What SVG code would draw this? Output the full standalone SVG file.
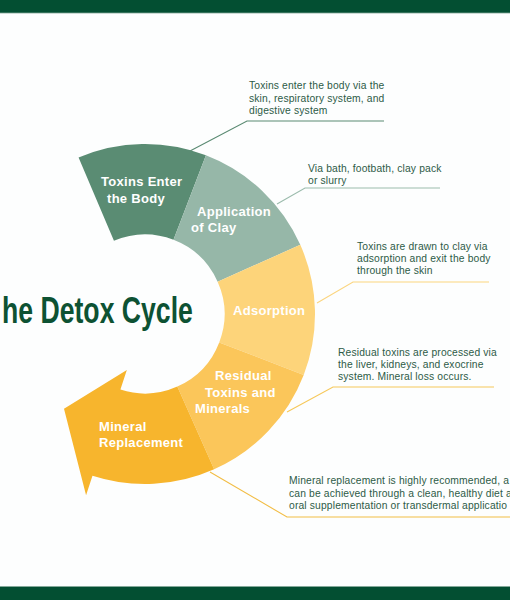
<svg xmlns="http://www.w3.org/2000/svg" width="510" height="600" viewBox="0 0 510 600">
<style>
.lbl{font-family:"Liberation Sans",Arial,sans-serif;font-weight:bold;font-size:13px;fill:#ffffff;letter-spacing:0.3px}
.ann{font-family:"Liberation Sans",Arial,sans-serif;font-size:10.3px;fill:#2d5b47;letter-spacing:0.15px}
.ld{fill:none;stroke-width:1.1}
</style>
<rect x="0" y="0" width="510" height="600" fill="#fdfefe"/>
<rect x="0" y="0" width="510" height="13" fill="#034f32"/>
<rect x="0" y="12.6" width="510" height="0.8" fill="#7fa596"/>
<rect x="0" y="586.6" width="510" height="13.4" fill="#034f32"/>
<rect x="0" y="586.2" width="510" height="0.8" fill="#7fa596"/>

<g id="connectors">
<polyline class="ld" stroke="#5a8a72" points="190,151 247,121 384,121"/>
<polyline class="ld" stroke="#9bbbac" points="277,204 305,188 440,188"/>
<polyline class="ld" stroke="#fbd57f" points="317,303 353,282 489,282"/>
<polyline class="ld" stroke="#f6c85a" points="287,412 333,387 494,387"/>
<polyline class="ld" stroke="#f2bd45" points="210,472 287,517 510,517"/>
</g>

<g id="toxins-enter">
<path fill="#5a8c73" d="M78.58,157.51 A170,170 0 0 1 205.93,155.29 L173.49,239.78 A79.5,79.5 0 0 0 113.94,240.82 Z"/>
<text class="lbl" x="101" y="186">Toxins Enter</text>
<text class="lbl" x="107" y="203">the Body</text>
</g>
<g id="application">
<path fill="#96b7a8" d="M205.93,155.29 A170,170 0 0 1 300.30,244.86 L217.62,281.67 A79.5,79.5 0 0 0 173.49,239.78 Z"/>
<text class="lbl" x="197" y="216">Application</text>
<text class="lbl" x="191" y="232">of Clay</text>
</g>
<g id="adsorption">
<path fill="#fdd47a" d="M300.30,244.86 A170,170 0 0 1 303.71,374.93 L219.22,342.49 A79.5,79.5 0 0 0 217.62,281.67 Z"/>
<text class="lbl" x="233" y="315">Adsorption</text>
</g>
<g id="residual">
<path fill="#fbc65a" d="M303.71,374.93 A170,170 0 0 1 214.14,469.30 L177.33,386.62 A79.5,79.5 0 0 0 219.22,342.49 Z"/>
<text class="lbl" x="215" y="380">Residual</text>
<text class="lbl" x="205" y="397">Toxins and</text>
<text class="lbl" x="195" y="413">Minerals</text>
</g>
<g id="mineral-replacement">
<path fill="#f7b52d" d="M214.14,469.30 A170,170 0 0 1 92.47,475.69 L86.07,495.37 L63.99,408.86 L126.83,369.92 L120.43,389.61 A79.5,79.5 0 0 0 177.33,386.62 Z"/>
<text class="lbl" x="99" y="431">Mineral</text>
<text class="lbl" x="99" y="447">Replacement</text>
</g>

<g id="title">
<text transform="translate(2,323) scale(0.72,1)" x="0" y="0" font-family="'Liberation Sans',Arial,sans-serif" font-weight="bold" font-size="37" fill="#0d5233">he Detox Cycle</text>
</g>

<g id="note-1">
<text class="ann" x="249" y="89">Toxins enter the body via the</text>
<text class="ann" x="249" y="101.5">skin, respiratory system, and</text>
<text class="ann" x="249" y="114">digestive system</text>
</g>
<g id="note-2">
<text class="ann" x="308" y="172">Via bath, footbath, clay pack</text>
<text class="ann" x="308" y="184">or slurry</text>
</g>
<g id="note-3">
<text class="ann" x="357" y="250">Toxins are drawn to clay via</text>
<text class="ann" x="357" y="262">adsorption and exit the body</text>
<text class="ann" x="357" y="274">through the skin</text>
</g>
<g id="note-4">
<text class="ann" x="338" y="356">Residual toxins are processed via</text>
<text class="ann" x="338" y="368">the liver, kidneys, and exocrine</text>
<text class="ann" x="338" y="380">system. Mineral loss occurs.</text>
</g>
<g id="note-5">
<text class="ann" x="289" y="484">Mineral replacement is highly recommended, a</text>
<text class="ann" x="289" y="496.5">can be achieved through a clean, healthy diet a</text>
<text class="ann" x="289" y="509">oral supplementation or transdermal applicatio</text>
</g>
</svg>
